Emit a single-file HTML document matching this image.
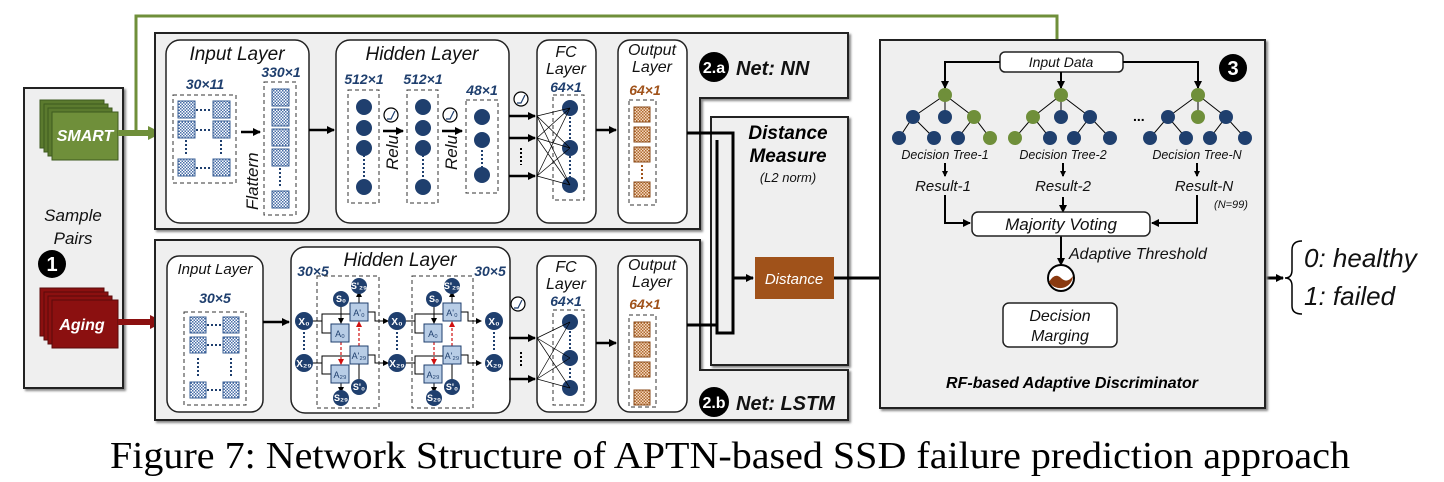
<!DOCTYPE html>
<html><head><meta charset="utf-8"><style>
html,body{margin:0;padding:0;background:#fff;}
svg{display:block;font-family:"Liberation Sans",sans-serif;}
.t{font-style:italic;fill:#111;}
.b{fill:#1f3f6e;font-weight:bold;font-style:italic;}
.o{fill:#a0521a;font-weight:bold;font-style:italic;}
</style></head><body>
<svg width="1444" height="482" viewBox="0 0 1444 482" xmlns="http://www.w3.org/2000/svg">
<defs>
<pattern id="chk" width="3" height="3" patternUnits="userSpaceOnUse"><rect width="3" height="3" fill="#fff"/><rect width="1.5" height="1.5" fill="#4a6fa8"/><rect x="1.5" y="1.5" width="1.5" height="1.5" fill="#4a6fa8"/></pattern>
<pattern id="chko" width="3" height="3" patternUnits="userSpaceOnUse"><rect width="3" height="3" fill="#f3d8c0"/><rect width="1.5" height="1.5" fill="#b06a30"/><rect x="1.5" y="1.5" width="1.5" height="1.5" fill="#b06a30"/></pattern>
<marker id="ar" markerWidth="8" markerHeight="8" refX="7" refY="4" orient="auto" markerUnits="userSpaceOnUse"><path d="M0,0 L8,4 L0,8z" fill="#000"/></marker>
<marker id="ars" markerWidth="6" markerHeight="6" refX="5" refY="3" orient="auto" markerUnits="userSpaceOnUse"><path d="M0,0 L6,3 L0,6z" fill="#000"/></marker>
<marker id="arr" markerWidth="6" markerHeight="6" refX="5" refY="3" orient="auto" markerUnits="userSpaceOnUse"><path d="M0,0 L6,3 L0,6z" fill="#d01010"/></marker>
<marker id="arg" markerWidth="14" markerHeight="14" refX="12" refY="7" orient="auto" markerUnits="userSpaceOnUse"><path d="M0,0 L14,7 L0,14z" fill="#6f8f3a"/></marker>
<marker id="arred" markerWidth="14" markerHeight="14" refX="12" refY="7" orient="auto" markerUnits="userSpaceOnUse"><path d="M0,0 L14,7 L0,14z" fill="#8b1010"/></marker>
<marker id="args" markerWidth="10" markerHeight="10" refX="9" refY="5" orient="auto" markerUnits="userSpaceOnUse"><path d="M0,0 L10,5 L0,10z" fill="#6f8f3a"/></marker>
<filter id="sh"><feDropShadow dx="2" dy="2" stdDeviation="1" flood-color="#888"/></filter>
</defs>

<!-- Sample pairs -->
<rect x="24" y="88" width="99" height="300" fill="#efefef" stroke="#222" stroke-width="2" filter="url(#sh)"/>
<g stroke="#3e5a1f" stroke-width="1">
<rect x="40" y="100" width="64" height="48" fill="#5b7a2e"/>
<rect x="44" y="104" width="64" height="48" fill="#5b7a2e"/>
<rect x="48" y="108" width="64" height="48" fill="#5b7a2e"/>
<rect x="52" y="112" width="66" height="48" fill="#6f8f3a"/>
</g>
<text x="85" y="141" text-anchor="middle" fill="#fff" font-size="16" font-weight="bold" font-style="italic">SMART</text>
<text x="73" y="221" text-anchor="middle" class="t" font-size="17">Sample</text>
<text x="73" y="244" text-anchor="middle" class="t" font-size="17">Pairs</text>
<circle cx="52" cy="264" r="14" fill="#000"/><text x="52" y="271" text-anchor="middle" fill="#fff" font-weight="bold" font-size="20">1</text>
<g stroke="#5a0a0a" stroke-width="1">
<rect x="40" y="288" width="64" height="48" fill="#8b1010"/>
<rect x="44" y="292" width="64" height="48" fill="#8b1010"/>
<rect x="48" y="296" width="64" height="48" fill="#8b1010"/>
<rect x="52" y="300" width="66" height="48" fill="#8b1010"/>
</g>
<text x="82" y="330" text-anchor="middle" fill="#fff" font-size="16" font-weight="bold" font-style="italic">Aging</text>

<!-- green / red input arrows -->
<path d="M118,133 H160" stroke="#6f8f3a" stroke-width="6" fill="none" marker-end="url(#arg)"/>
<path d="M136,133 V16 H1057 V50" stroke="#6f8f3a" stroke-width="3" fill="none" marker-end="url(#args)"/>
<path d="M118,322 H162" stroke="#8b1010" stroke-width="6" fill="none" marker-end="url(#arred)"/>

<!-- NN outer box -->
<path d="M155,33 H848 V98 H700 V229 H155 Z" fill="#efefef" stroke="#222" stroke-width="2" filter="url(#sh)"/>
<circle cx="714" cy="67" r="15" fill="#000"/><text x="714" y="73" text-anchor="middle" fill="#fff" font-weight="bold" font-size="16">2.a</text>
<text x="736" y="75" font-weight="bold" font-style="italic" font-size="20" fill="#111">Net: NN</text>

<!-- LSTM outer box -->
<path d="M155,240 H700 V370 H848 V420 H155 Z" fill="#efefef" stroke="#222" stroke-width="2" filter="url(#sh)"/>
<circle cx="714" cy="402" r="15" fill="#000"/><text x="714" y="408" text-anchor="middle" fill="#fff" font-weight="bold" font-size="16">2.b</text>
<text x="736" y="410" font-weight="bold" font-style="italic" font-size="20" fill="#111">Net: LSTM</text>

<!-- Distance measure box -->
<rect x="711" y="117" width="137" height="248" fill="#efefef" stroke="#222" stroke-width="2" filter="url(#sh)"/>
<text x="788" y="139" text-anchor="middle" font-weight="bold" font-style="italic" font-size="19">Distance</text>
<text x="788" y="162" text-anchor="middle" font-weight="bold" font-style="italic" font-size="19">Measure</text>
<text x="788" y="182" text-anchor="middle" class="t" font-size="13">(L2 norm)</text>
<rect x="755" y="257" width="79" height="42" fill="#a0521a"/>
<text x="794" y="284" text-anchor="middle" fill="#fff" font-style="italic" font-size="15">Distance</text>

<!-- NN inner -->
<g fill="#fff" stroke="#222" stroke-width="1.5">
<rect x="166" y="40" width="143" height="183" rx="14"/>
<rect x="336" y="40" width="173" height="183" rx="14"/>
<rect x="537" y="40" width="59" height="183" rx="12"/>
<rect x="618" y="40" width="69" height="183" rx="12"/>
</g>
<text x="237" y="60" text-anchor="middle" class="t" font-size="19">Input Layer</text>
<text x="422" y="60" text-anchor="middle" class="t" font-size="19">Hidden Layer</text>
<text x="566" y="57" text-anchor="middle" class="t" font-size="16">FC</text>
<text x="566" y="74" text-anchor="middle" class="t" font-size="16">Layer</text>
<text x="566" y="92" text-anchor="middle" class="b" font-size="14">64×1</text>
<text x="652" y="55" text-anchor="middle" class="t" font-size="16">Output</text>
<text x="652" y="72" text-anchor="middle" class="t" font-size="16">Layer</text>
<text x="645" y="95" text-anchor="middle" class="o" font-size="14">64×1</text>

<text x="205" y="89" text-anchor="middle" class="b" font-size="14">30×11</text>
<text x="281" y="77" text-anchor="middle" class="b" font-size="14">330×1</text>
<text x="364" y="84" text-anchor="middle" class="b" font-size="14">512×1</text>
<text x="423" y="84" text-anchor="middle" class="b" font-size="14">512×1</text>
<text x="482" y="95" text-anchor="middle" class="b" font-size="14">48×1</text>
<g fill="none" stroke="#333" stroke-dasharray="4,3">
<rect x="173" y="95" width="63" height="88"/>
<rect x="264" y="82" width="32" height="133"/>
<rect x="348" y="90" width="31" height="113"/>
<rect x="407" y="90" width="31" height="113"/>
<rect x="466" y="100" width="32" height="93"/>
<rect x="553" y="95" width="31" height="105"/>
<rect x="629" y="100" width="27" height="105"/>
</g>
<g fill="url(#chk)" stroke="#3a5f95">
<rect x="178" y="101" width="17" height="17"/><rect x="213" y="101" width="17" height="17"/>
<rect x="178" y="121" width="17" height="17"/><rect x="213" y="121" width="17" height="17"/>
<rect x="178" y="159" width="17" height="17"/><rect x="213" y="159" width="17" height="17"/>
<rect x="272" y="89" width="17" height="17"/><rect x="272" y="109" width="17" height="17"/>
<rect x="272" y="129" width="17" height="17"/><rect x="272" y="149" width="17" height="17"/>
<rect x="272" y="191" width="17" height="17"/>
</g>
<g stroke="#1f3f6e" stroke-width="2" stroke-dasharray="2,2">
<path d="M196,110 H212 M196,130 H212 M196,168 H212 M186,140 V156 M221,140 V156 M280,168 V188"/>
<path d="M364,155 V178 M423,155 V178 M482,150 V168 M570,117 V140 M570,156 V178"/>
</g>
<g fill="#1f3f6e">
<circle cx="364" cy="107" r="8"/><circle cx="364" cy="128" r="8"/><circle cx="364" cy="148" r="8"/><circle cx="364" cy="187" r="8"/>
<circle cx="423" cy="107" r="8"/><circle cx="423" cy="128" r="8"/><circle cx="423" cy="148" r="8"/><circle cx="423" cy="187" r="8"/>
<circle cx="482" cy="117" r="8"/><circle cx="482" cy="140" r="8"/><circle cx="482" cy="175" r="8"/>
<circle cx="570" cy="108" r="8"/><circle cx="570" cy="148" r="8"/><circle cx="570" cy="185" r="8"/>
</g>
<g fill="url(#chko)" stroke="#8a4a18">
<rect x="634" y="107" width="16" height="15"/><rect x="634" y="127" width="16" height="15"/>
<rect x="634" y="147" width="16" height="15"/><rect x="634" y="182" width="16" height="15"/>
</g>
<path d="M642,165 V180" stroke="#a0521a" stroke-width="2" stroke-dasharray="2,2"/>
<!-- relu icons -->
<g fill="#fff" stroke="#000" stroke-width="1.2">
<circle cx="391" cy="115" r="7"/><circle cx="450" cy="115" r="7"/><circle cx="521" cy="99" r="7"/>
<circle cx="518" cy="304" r="7"/>
</g>
<g fill="none" stroke="#1f3f6e" stroke-width="1.2">
<path d="M387,119 H391 L395,111"/><path d="M446,119 H450 L454,111"/><path d="M517,103 H521 L525,95"/><path d="M514,308 H518 L522,300"/>
</g>
<text transform="translate(258,210) rotate(-90)" class="t" font-size="17">Flattern</text>
<text transform="translate(398,170) rotate(-90)" class="t" font-size="17">Relu</text>
<text transform="translate(457,170) rotate(-90)" class="t" font-size="17">Relu</text>
<g stroke="#000" stroke-width="2.5" fill="none">
<path d="M241,132 H260" marker-end="url(#ar)"/>
<path d="M309,130 H334" marker-end="url(#ar)"/>
<path d="M383,131 H403" marker-end="url(#ar)"/>
<path d="M442,131 H462" marker-end="url(#ar)"/>
<path d="M509,116 H535" marker-end="url(#ar)"/>
<path d="M509,138 H535" marker-end="url(#ar)"/>
<path d="M509,176 H535" marker-end="url(#ar)"/>
<path d="M596,130 H616" marker-end="url(#ar)"/>
</g>
<path d="M521,148 V165" stroke="#000" stroke-width="2" stroke-dasharray="2,2"/>
<g stroke="#000" stroke-width="0.7">
<path d="M537,116 L570,108 M537,116 L570,148 M537,116 L570,185 M537,138 L570,108 M537,138 L570,148 M537,138 L570,185 M537,176 L570,108 M537,176 L570,148 M537,176 L570,185"/>
</g>

<!-- LSTM inner -->
<g fill="#fff" stroke="#222" stroke-width="1.5">
<rect x="167" y="256" width="96" height="156" rx="12"/>
<rect x="291" y="247" width="219" height="166" rx="14"/>
<rect x="537" y="256" width="59" height="156" rx="12"/>
<rect x="618" y="256" width="69" height="156" rx="12"/>
</g>
<text x="215" y="274" text-anchor="middle" class="t" font-size="15">Input Layer</text>
<text x="400" y="266" text-anchor="middle" class="t" font-size="19">Hidden Layer</text>
<text x="313" y="276" text-anchor="middle" class="b" font-size="14">30×5</text>
<text x="490" y="276" text-anchor="middle" class="b" font-size="14">30×5</text>
<text x="566" y="272" text-anchor="middle" class="t" font-size="16">FC</text>
<text x="566" y="289" text-anchor="middle" class="t" font-size="16">Layer</text>
<text x="566" y="306" text-anchor="middle" class="b" font-size="14">64×1</text>
<text x="652" y="270" text-anchor="middle" class="t" font-size="16">Output</text>
<text x="652" y="287" text-anchor="middle" class="t" font-size="16">Layer</text>
<text x="645" y="309" text-anchor="middle" class="o" font-size="14">64×1</text>
<text x="215" y="303" text-anchor="middle" class="b" font-size="14">30×5</text>
<g fill="none" stroke="#333" stroke-dasharray="4,3">
<rect x="184" y="312" width="62" height="93"/>
<rect x="317" y="276" width="62" height="132"/>
<rect x="412" y="276" width="61" height="132"/>
<rect x="553" y="310" width="31" height="95"/>
<rect x="629" y="315" width="27" height="92"/>
</g>
<g fill="url(#chk)" stroke="#3a5f95">
<rect x="190" y="317" width="16" height="16"/><rect x="223" y="317" width="16" height="16"/>
<rect x="190" y="337" width="16" height="16"/><rect x="223" y="337" width="16" height="16"/>
<rect x="190" y="382" width="16" height="16"/><rect x="223" y="382" width="16" height="16"/>
</g>
<g stroke="#1f3f6e" stroke-width="2" stroke-dasharray="2,2">
<path d="M207,325 H222 M207,345 H222 M207,390 H222 M198,358 V376 M231,358 V376 M570,331 V352 M570,364 V383"/>
<path d="M304,332 V352 M397,332 V352 M494,332 V352"/>
</g>
<g fill="#1f3f6e"><circle cx="570" cy="322" r="8"/><circle cx="570" cy="358" r="8"/><circle cx="570" cy="388" r="8"/></g>
<g fill="url(#chko)" stroke="#8a4a18">
<rect x="634" y="322" width="16" height="15"/><rect x="634" y="342" width="16" height="15"/>
<rect x="634" y="362" width="16" height="15"/><rect x="634" y="390" width="16" height="15"/>
</g>
<g stroke="#000" stroke-width="2.5" fill="none">
<path d="M263,322 H289" marker-end="url(#ar)"/>
<path d="M509,338 H535" marker-end="url(#ar)"/>
<path d="M509,379 H535" marker-end="url(#ar)"/>
<path d="M596,343 H616" marker-end="url(#ar)"/>
</g>
<path d="M521,352 V366" stroke="#000" stroke-width="2" stroke-dasharray="2,2"/>
<g stroke="#000" stroke-width="0.7">
<path d="M537,338 L570,322 M537,338 L570,358 M537,338 L570,388 M537,379 L570,322 M537,379 L570,358 M537,379 L570,388"/>
</g>

<!-- LSTM cells -->
<g id="cell">
<g stroke="#000" stroke-width="1" fill="none">
<path d="M311,321 H322 V314 H350 M322,321 V333 H331" />
<path d="M311,363 H322 V356 H350 M322,363 V374 H331"/>
<path d="M368,312 H375 V321 H388" marker-end="url(#ars)"/>
<path d="M368,355 H375 V363 H388" marker-end="url(#ars)"/>
<path d="M341,305 V323" marker-end="url(#ars)"/>
<path d="M359,303 V292" marker-end="url(#ars)"/>
<path d="M359,381 V364"/>
<path d="M341,383 V392" marker-end="url(#ars)"/>
</g>
<g stroke="#d01010" stroke-width="1.2" stroke-dasharray="3,2" fill="none">
<path d="M341,342 V364" marker-end="url(#arr)"/>
<path d="M359,346 V322" marker-end="url(#arr)"/>
</g>
<g fill="#b8cde6" stroke="#1f3f6e">
<rect x="331" y="324" width="18" height="18"/><rect x="350" y="303" width="18" height="18"/>
<rect x="350" y="346" width="18" height="18"/><rect x="331" y="365" width="18" height="18"/>
</g>
<g font-size="9" fill="#1f3f6e" text-anchor="middle">
<text x="340" y="337">A₀</text><text x="359" y="316">A'₀</text><text x="359" y="359">A'₂₉</text><text x="340" y="378">A₂₉</text>
</g>
<g fill="#1f3f6e">
<circle cx="341" cy="299" r="8"/><circle cx="359" cy="286" r="8"/><circle cx="359" cy="387" r="8"/><circle cx="341" cy="398" r="8"/>
</g>
<g font-size="9" fill="#fff" text-anchor="middle" font-weight="bold">
<text x="341" y="302">S₀</text><text x="359" y="289">S'₂₉</text><text x="359" y="390">S'₀</text><text x="341" y="401">S₂₉</text>
</g>
</g>
<use href="#cell" x="93"/>
<g fill="#1f3f6e">
<circle cx="304" cy="321" r="9"/><circle cx="304" cy="363" r="9"/>
<circle cx="397" cy="321" r="9"/><circle cx="397" cy="363" r="9"/>
<circle cx="494" cy="321" r="9"/><circle cx="494" cy="363" r="9"/>
</g>
<g font-size="10" fill="#fff" text-anchor="middle" font-weight="bold">
<text x="304" y="325">X₀</text><text x="304" y="367">X₂₉</text>
<text x="397" y="325">X₀</text><text x="397" y="367">X₂₉</text>
<text x="494" y="325">X₀</text><text x="494" y="367">X₂₉</text>
</g>

<!-- connectors to distance -->
<g stroke="#000" stroke-width="3" fill="none">
<path d="M687,133 H733 V333 H717 V140"/>
<path d="M687,325 H717"/>
<path d="M733,278 H753" marker-end="url(#ar)"/>
<path d="M834,278 H1047" marker-end="url(#ar)"/>
<path d="M1073,278 H1283" marker-end="url(#ar)"/>
</g>

<!-- RF box -->
<rect x="880" y="40" width="385" height="368" fill="#efefef" stroke="#222" stroke-width="2" filter="url(#sh)"/>
<circle cx="1233" cy="68" r="14" fill="#000"/><text x="1233" y="75" text-anchor="middle" fill="#fff" font-weight="bold" font-size="20">3</text>
<rect x="1000" y="52" width="123" height="20" rx="5" fill="#fff" stroke="#222" stroke-width="1.5"/>
<text x="1061" y="67" text-anchor="middle" class="t" font-size="14">Input Data</text>
<g stroke="#000" stroke-width="2" fill="none">
<path d="M1000,62 H945 V88" marker-end="url(#ar)"/>
<path d="M1061,72 V88" marker-end="url(#ar)"/>
<path d="M1123,62 H1198 V88" marker-end="url(#ar)"/>
</g>
<g stroke="#000" stroke-width="1">
<path d="M945,95 L913,117 M945,95 L945,117 M945,95 L974,117 M913,117 L899,138 M913,117 L934,138 M974,117 L958,138 M974,117 L990,138"/>
<path d="M1061,95 L1033,117 M1061,95 L1061,117 M1061,95 L1090,117 M1033,117 L1015,138 M1033,117 L1050,138 M1090,117 L1074,138 M1090,117 L1110,138"/>
<path d="M1198,95 L1168,117 M1198,95 L1198,117 M1198,95 L1226,117 M1168,117 L1150,138 M1168,117 L1186,138 M1226,117 L1210,138 M1226,117 L1245,138"/>
</g>
<g fill="#1f3f6e">
<circle cx="913" cy="117" r="7"/><circle cx="945" cy="117" r="7"/><circle cx="899" cy="138" r="7"/><circle cx="934" cy="138" r="7"/><circle cx="958" cy="138" r="7"/>
<circle cx="1061" cy="117" r="7"/><circle cx="1090" cy="117" r="7"/><circle cx="1050" cy="138" r="7"/><circle cx="1074" cy="138" r="7"/><circle cx="1110" cy="138" r="7"/>
<circle cx="1168" cy="117" r="7"/><circle cx="1226" cy="117" r="7"/><circle cx="1150" cy="138" r="7"/><circle cx="1186" cy="138" r="7"/><circle cx="1210" cy="138" r="7"/><circle cx="1245" cy="138" r="7"/>
</g>
<g fill="#6f8f3a">
<circle cx="945" cy="95" r="7"/><circle cx="974" cy="117" r="7"/><circle cx="990" cy="138" r="7"/>
<circle cx="1061" cy="95" r="7"/><circle cx="1033" cy="117" r="7"/><circle cx="1015" cy="138" r="7"/>
<circle cx="1198" cy="95" r="7"/><circle cx="1198" cy="117" r="7"/>
</g>
<text x="1133" y="121" font-size="14" font-weight="bold">...</text>
<text x="945" y="159" text-anchor="middle" class="t" font-size="12.5">Decision Tree-1</text>
<text x="1063" y="159" text-anchor="middle" class="t" font-size="12.5">Decision Tree-2</text>
<text x="1197" y="159" text-anchor="middle" class="t" font-size="12.5">Decision Tree-N</text>
<g stroke="#000" stroke-width="2" fill="none">
<path d="M945,163 V176" marker-end="url(#ars)"/>
<path d="M1063,163 V176" marker-end="url(#ars)"/>
<path d="M1197,163 V176" marker-end="url(#ars)"/>
<path d="M945,195 V223 H970" marker-end="url(#ar)"/>
<path d="M1063,197 V212" marker-end="url(#ar)"/>
<path d="M1197,195 V223 H1152" marker-end="url(#ar)"/>
<path d="M1061,236 V265" marker-end="url(#ar)"/>
</g>
<text x="943" y="191" text-anchor="middle" class="t" font-size="15">Result-1</text>
<text x="1063" y="191" text-anchor="middle" class="t" font-size="15">Result-2</text>
<text x="1204" y="191" text-anchor="middle" class="t" font-size="15">Result-N</text>
<text x="1231" y="208" text-anchor="middle" class="t" font-size="11">(N=99)</text>
<rect x="972" y="212" width="178" height="24" rx="6" fill="#fff" stroke="#222" stroke-width="1.5"/>
<text x="1061" y="230" text-anchor="middle" class="t" font-size="17">Majority Voting</text>
<text x="1069" y="259" class="t" font-size="16">Adaptive Threshold</text>
<circle cx="1061" cy="278" r="13" fill="#fff" stroke="#000" stroke-width="2"/>
<path d="M1049,282 Q1055,272 1061,278 Q1067,284 1073,276 A13,13 0 0 1 1049,282 Z" fill="#8a3a10"/>
<rect x="1003" y="303" width="114" height="44" rx="6" fill="#fff" stroke="#222" stroke-width="1.5"/>
<text x="1060" y="321" text-anchor="middle" class="t" font-size="16">Decision</text>
<text x="1060" y="341" text-anchor="middle" class="t" font-size="16">Marging</text>
<text x="1072" y="388" text-anchor="middle" font-weight="bold" font-style="italic" font-size="16">RF-based Adaptive Discriminator</text>

<!-- outputs -->
<path d="M1302,241 Q1292,241 1292,250 V270 Q1292,278 1285,278 Q1292,278 1292,286 V306 Q1292,314 1302,314" fill="none" stroke="#000" stroke-width="1.5"/>
<text x="1304" y="267" class="t" font-size="26">0: healthy</text>
<text x="1304" y="305" class="t" font-size="26">1: failed</text>

<text x="110" y="468" textLength="1240" lengthAdjust="spacingAndGlyphs" font-family="Liberation Serif, serif" font-size="38" fill="#000">Figure 7: Network Structure of APTN-based SSD failure prediction approach</text>
</svg>
</body></html>
